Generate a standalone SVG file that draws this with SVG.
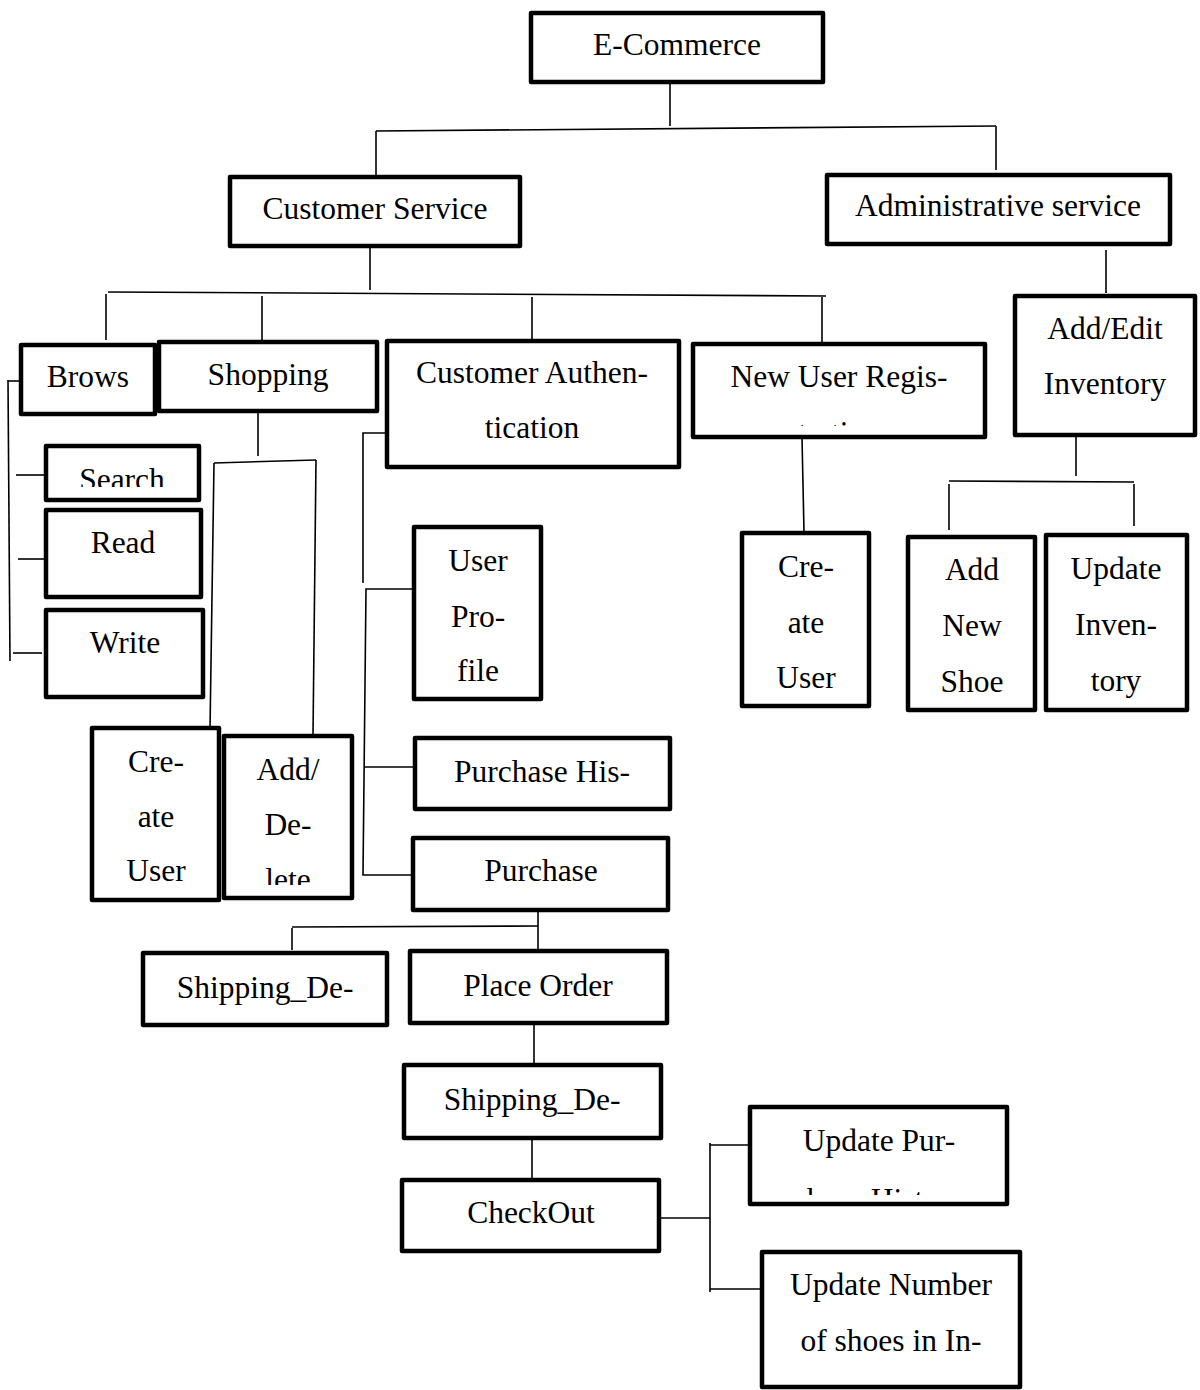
<svg xmlns="http://www.w3.org/2000/svg" width="1200" height="1390" viewBox="0 0 1200 1390">
  <style>
    .box { fill: #fff; stroke: #000; stroke-width: 4.5; stroke-linejoin: round; }
    .lbl { font-family: "Liberation Serif", "Times New Roman", serif; font-size: 31.5px; fill: #000; text-anchor: middle; }
    .wire { fill: none; stroke: #000; stroke-width: 1.6; }
  </style>
  <defs>
    <clipPath id="clip-search"><rect x="46" y="446" width="153" height="41"/></clipPath>
    <clipPath id="clip-reg"><rect x="693" y="344" width="292" height="82"/></clipPath>
    <clipPath id="clip-adddel"><rect x="224" y="736" width="128" height="149"/></clipPath>
    <clipPath id="clip-updpur"><rect x="750" y="1107" width="257" height="88"/></clipPath>
  </defs>
  <rect width="1200" height="1390" fill="#fff"/>

  <!-- tree connectors -->
  <g id="connectors" class="wire">
    <path d="M670 82 V126"/>
    <path d="M376 131 L996 126"/>
    <path d="M376 131 V177"/>
    <path d="M996 126 V170"/>
    <path d="M370 246 V290"/>
    <path d="M108 292 L826 296"/>
    <path d="M106 294 V340"/>
    <path d="M262 296 V340"/>
    <path d="M532 297 V340"/>
    <path d="M822 297 V342"/>
    <path d="M1106 250 V293"/>
    <path d="M1076 435 V476"/>
    <path d="M949 481 L1134 482"/>
    <path d="M949 484 V530"/>
    <path d="M1134 484 V526"/>
    <path d="M802 437 L804 532"/>
    <!-- browse children -->
    <path d="M8 381 H21"/>
    <path d="M8 380 L10 661"/>
    <path d="M16 475 H46"/>
    <path d="M18 559 H46"/>
    <path d="M13 653 H42"/>
    <!-- shopping children -->
    <path d="M258 411 V456"/>
    <path d="M214 463 L316 460"/>
    <path d="M214 463 L210 730"/>
    <path d="M316 460 L313 736"/>
    <!-- authentication children -->
    <path d="M387 433 H363 V583"/>
    <path d="M413 589 H366 L363 875 H413"/>
    <path d="M364 767 H414"/>
    <!-- purchase flow -->
    <path d="M538 910 V951"/>
    <path d="M292 927 L538 926"/>
    <path d="M292 928 V950"/>
    <path d="M534 1023 V1065"/>
    <path d="M532 1138 V1180"/>
    <path d="M659 1218 H710"/>
    <path d="M710 1143 V1292"/>
    <path d="M710 1145 H750"/>
    <path d="M710 1289 H762"/>
  </g>

  <g id="n-ecommerce"><rect class="box" x="531" y="13" width="292" height="69"/><text class="lbl" x="677" y="55">E-Commerce</text></g>
  <g id="n-customer-service"><rect class="box" x="230" y="177" width="290" height="69"/><text class="lbl" x="375" y="219">Customer Service</text></g>
  <g id="n-admin-service"><rect class="box" x="827" y="175" width="343" height="69"/><text class="lbl" x="998" y="216">Administrative service</text></g>

  <g id="n-brows"><rect class="box" x="21" y="345" width="134" height="69"/><text class="lbl" x="88" y="387">Brows</text></g>
  <g id="n-shopping"><rect class="box" x="159" y="342" width="218" height="69"/><text class="lbl" x="268" y="385">Shopping</text></g>
  <g id="n-cust-auth"><rect class="box" x="387" y="341" width="292" height="126"/><text class="lbl" x="532" y="383">Customer Authen-</text><text class="lbl" x="532" y="438">tication</text></g>
  <g id="n-new-user-reg"><rect class="box" x="693" y="344" width="292" height="93"/><text class="lbl" x="839" y="387">New User Regis-</text><text class="lbl" x="839" y="443" clip-path="url(#clip-reg)">tration</text></g>
  <g id="n-add-edit-inv"><rect class="box" x="1015" y="296" width="180" height="139"/><text class="lbl" x="1105" y="339">Add/Edit</text><text class="lbl" x="1105" y="394">Inventory</text></g>

  <g id="n-search"><rect class="box" x="46" y="446" width="153" height="54"/><text class="lbl" x="122" y="490" clip-path="url(#clip-search)">Search</text></g>
  <g id="n-read"><rect class="box" x="46" y="510" width="155" height="87"/><text class="lbl" x="123" y="553">Read</text></g>
  <g id="n-write"><rect class="box" x="46" y="610" width="157" height="87"/><text class="lbl" x="125" y="653">Write</text></g>

  <g id="n-create-user-a"><rect class="box" x="92" y="728" width="127" height="172"/><text class="lbl" x="156" y="772">Cre-</text><text class="lbl" x="156" y="827">ate</text><text class="lbl" x="156" y="881">User</text></g>
  <g id="n-add-delete"><rect class="box" x="224" y="736" width="128" height="162"/><text class="lbl" x="288" y="780">Add/</text><text class="lbl" x="288" y="835">De-</text><text class="lbl" x="288" y="890" clip-path="url(#clip-adddel)">lete</text></g>

  <g id="n-user-profile"><rect class="box" x="414" y="527" width="127" height="172"/><text class="lbl" x="478" y="571">User</text><text class="lbl" x="478" y="627">Pro-</text><text class="lbl" x="478" y="681">file</text></g>
  <g id="n-purchase-history"><rect class="box" x="415" y="738" width="255" height="71"/><text class="lbl" x="542" y="782">Purchase His-</text></g>
  <g id="n-purchase"><rect class="box" x="413" y="838" width="255" height="72"/><text class="lbl" x="541" y="881">Purchase</text></g>

  <g id="n-shipping-a"><rect class="box" x="143" y="953" width="244" height="72"/><text class="lbl" x="265" y="998">Shipping_De-</text></g>
  <g id="n-place-order"><rect class="box" x="410" y="951" width="257" height="72"/><text class="lbl" x="538" y="996">Place Order</text></g>
  <g id="n-shipping-b"><rect class="box" x="404" y="1065" width="257" height="73"/><text class="lbl" x="532" y="1110">Shipping_De-</text></g>
  <g id="n-checkout"><rect class="box" x="402" y="1180" width="257" height="71"/><text class="lbl" x="531" y="1223">CheckOut</text></g>

  <g id="n-update-purchase"><rect class="box" x="750" y="1107" width="257" height="97"/><text class="lbl" x="879" y="1151">Update Pur-</text><text class="lbl" x="879" y="1210" clip-path="url(#clip-updpur)">chase History</text></g>
  <g id="n-update-number"><rect class="box" x="762" y="1252" width="258" height="135"/><text class="lbl" x="891" y="1295">Update Number</text><text class="lbl" x="891" y="1351">of shoes in In-</text></g>

  <g id="n-create-user-b"><rect class="box" x="742" y="533" width="127" height="173"/><text class="lbl" x="806" y="577">Cre-</text><text class="lbl" x="806" y="633">ate</text><text class="lbl" x="806" y="688">User</text></g>
  <g id="n-add-new-shoe"><rect class="box" x="908" y="537" width="127" height="173"/><text class="lbl" x="972" y="580">Add</text><text class="lbl" x="972" y="636">New</text><text class="lbl" x="972" y="692">Shoe</text></g>
  <g id="n-update-inventory"><rect class="box" x="1046" y="535" width="141" height="175"/><text class="lbl" x="1116" y="579">Update</text><text class="lbl" x="1116" y="635">Inven-</text><text class="lbl" x="1116" y="691">tory</text></g>
</svg>
